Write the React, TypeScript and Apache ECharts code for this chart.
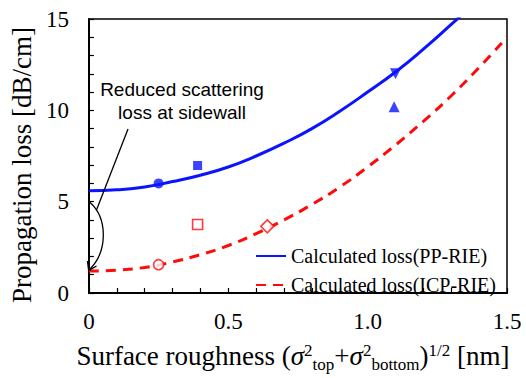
import React, { useEffect, useRef } from "react";
import * as echarts from "echarts";

// Calculated loss curves
const ppX = [0, 0.1, 0.2, 0.3, 0.4, 0.5, 0.6, 0.7, 0.8, 0.9, 1.0, 1.1, 1.2, 1.3, 1.35];
const ppY = [5.6, 5.65, 5.8, 6.1, 6.45, 6.9, 7.5, 8.2, 9.0, 9.95, 11.0, 12.1, 13.35, 14.7, 15.4];
const icpX = [0, 0.1, 0.2, 0.3, 0.4, 0.5, 0.6, 0.7, 0.8, 0.9, 1.0, 1.1, 1.2, 1.3, 1.4, 1.5];
const icpY = [1.2, 1.25, 1.4, 1.7, 2.1, 2.6, 3.25, 4.0, 4.85, 5.8, 6.9, 8.1, 9.4, 10.8, 12.35, 14.0];

// Measured points
const ppCircle = [[0.25, 6.0]];
const ppSquare = [[0.39, 6.98]];
const ppTriDown = [[1.1, 12.0]];
const ppTriUp = [[1.095, 10.2]];
const icpCircle = [[0.25, 1.55]];
const icpSquare = [[0.39, 3.75]];
const icpDiamond = [[0.64, 3.65]];

const SERIF = "Liberation Serif";
const SANS = "Liberation Sans";
const BLUE = "#0a14ff";
const RED = "#ff0a0a";

export default function App() {
  const ref = useRef<HTMLDivElement>(null);
  useEffect(() => {
    if (!ref.current) return;
    const chart = echarts.init(ref.current, null, { renderer: "svg" });
    const zip = (xs: number[], ys: number[]) => xs.map((x, i) => [x, ys[i]]);
    const filled = (name: string, data: number[][], symbol: string, size: number, rotate = 0) => ({
      name,
      type: "scatter",
      data,
      symbol,
      symbolSize: size,
      symbolRotate: rotate,
      itemStyle: { color: BLUE },
      z: 5,
    });
    const hollow = (name: string, data: number[][], symbol: string, size: number) => ({
      name,
      type: "scatter",
      data,
      symbol,
      symbolSize: size,
      itemStyle: { color: "#fff", borderColor: RED, borderWidth: 1.6 },
      z: 5,
    });
    chart.setOption({
      animation: false,
      backgroundColor: "#fff",
      textStyle: { fontFamily: SERIF, color: "#000" },
      title: {
        text: "Reduced scattering\nloss at sidewall",
        left: 182,
        top: 78,
        textAlign: "center",
        padding: 0,
        textStyle: { fontFamily: SANS, fontSize: 19, fontWeight: "normal", color: "#000", lineHeight: 23 },
      },
      grid: {
        left: 80,
        right: 19,
        top: 19,
        bottom: 79,
        show: true,
        borderColor: "#000",
        borderWidth: 1.5,
      },
      xAxis: {
        type: "value",
        min: 0,
        max: 1.5,
        interval: 0.5,
        axisLine: { show: true, lineStyle: { color: "#000", width: 2 } },
        axisTick: { show: true, inside: true, length: 5, lineStyle: { color: "#000", width: 1.2 } },
        minorTick: { show: true, splitNumber: 5, length: 5, lineStyle: { color: "#000", width: 1.2 } },
        splitLine: { show: false },
        axisLabel: {
          color: "#000",
          fontFamily: "serif",
          fontSize: 23,
          margin: 17,
          formatter: (v: number) => (v === 0 ? "0" : v.toFixed(1)),
        },
        name:
          "{n|Surface roughness (}{g|σ}{sup|2}{sub|top}{n|+}{g|σ}{sup|2}{sub|bottom}{n|)}{sup|1/2}{n| [nm]}",
        nameLocation: "middle",
        nameGap: 46,
        nameTextStyle: {
          color: "#000",
          fontFamily: SERIF,
          fontSize: 27,
          padding: [0, 10, 0, 0],
          rich: {
            n: { fontFamily: SERIF, fontSize: 27, color: "#000", lineHeight: 34, verticalAlign: "middle" },
            g: { fontFamily: SERIF, fontSize: 27, fontStyle: "italic", color: "#000", lineHeight: 34, verticalAlign: "middle" },
            sup: { fontFamily: SERIF, fontSize: 17, color: "#000", lineHeight: 17, verticalAlign: "top", padding: [3, 0, 0, 0] },
            sub: { fontFamily: SERIF, fontSize: 17, color: "#000", lineHeight: 17, verticalAlign: "bottom" },
          },
        },
      },
      yAxis: {
        type: "value",
        min: 0,
        max: 15,
        interval: 5,
        axisLine: { show: true, lineStyle: { color: "#000", width: 2 } },
        axisTick: { show: true, inside: true, length: 5, lineStyle: { color: "#000", width: 1.2 } },
        minorTick: { show: true, splitNumber: 5, length: 5, lineStyle: { color: "#000", width: 1.2 } },
        splitLine: { show: false },
        axisLabel: {
          color: "#000",
          fontFamily: "serif",
          fontSize: 23,
          margin: 20,
        },
        name: "Propagation loss [dB/cm]",
        nameLocation: "middle",
        nameGap: 44,
        nameTextStyle: { color: "#000", fontFamily: SERIF, fontSize: 27, padding: [0, 18, 0, 0] },
      },
      legend: {
        show: true,
        orient: "vertical",
        left: 250,
        top: 241,
        itemWidth: 30,
        itemHeight: 12,
        itemGap: 9,
        itemStyle: { opacity: 0 },
        data: ["Calculated loss(PP-RIE)", "Calculated loss(ICP-RIE)"],
        textStyle: { color: "#000", fontFamily: SERIF, fontSize: 20, lineHeight: 20 },
      },
      series: [
        {
          name: "Calculated loss(PP-RIE)",
          type: "line",
          data: zip(ppX, ppY),
          smooth: true,
          symbol: "none",
          showSymbol: false,
          clip: true,
          lineStyle: { color: BLUE, width: 3 },
          itemStyle: { color: BLUE },
          z: 3,
        },
        {
          name: "Calculated loss(ICP-RIE)",
          type: "line",
          data: zip(icpX, icpY),
          smooth: true,
          symbol: "none",
          showSymbol: false,
          clip: true,
          lineStyle: { color: RED, width: 3, type: [10, 7] },
          itemStyle: { color: RED },
          z: 3,
        },
        filled("pp-circle", ppCircle, "circle", 10),
        filled("pp-square", ppSquare, "rect", 9),
        filled("pp-tridown", ppTriDown, "triangle", 11, 180),
        filled("pp-triup", ppTriUp, "triangle", 11),
        hollow("icp-circle", icpCircle, "circle", 10),
        hollow("icp-square", icpSquare, "rect", 10),
        hollow("icp-diamond", icpDiamond, "diamond", 13),
      ],
      graphic: [
        {
          type: "line",
          z: 100,
          shape: { x1: 128, y1: 129, x2: 96.5, y2: 210 },
          style: { stroke: "#000", lineWidth: 1.3 },
        },
        {
          type: "bezierCurve",
          z: 100,
          shape: { x1: 89.5, y1: 202, cpx1: 108, cpy1: 218, cpx2: 108, cpy2: 252, x2: 89, y2: 270 },
          style: { stroke: "#000", lineWidth: 1.3, fill: "none" },
        },
        {
          type: "polyline",
          z: 100,
          shape: { points: [[87.5, 261], [88.7, 270.7], [96.5, 266]] },
          style: { stroke: "#000", lineWidth: 1.4, fill: "none" },
        },
      ],
    });
    return () => chart.dispose();
  }, []);
  return <div ref={ref} style={{ width: 526, height: 378, position: "absolute", left: 0, top: 0 }} />;
}
